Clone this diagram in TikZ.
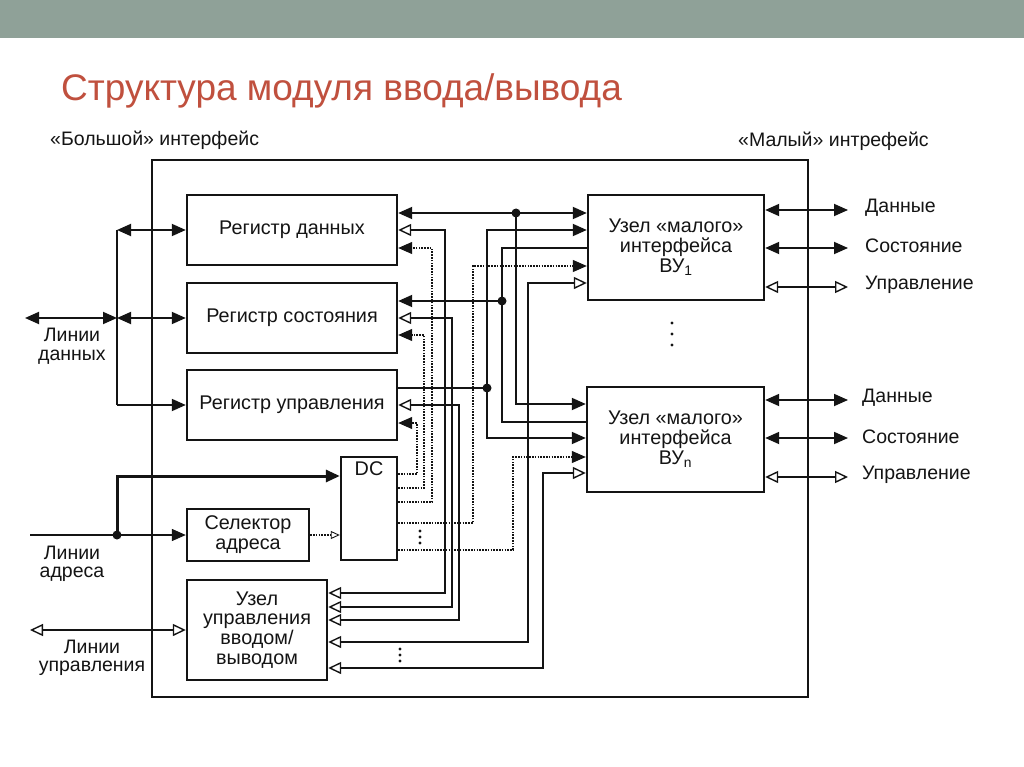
\documentclass[tikz,border=0pt]{standalone}
\usepackage{fontspec}
\setmainfont{Liberation Sans}
\usetikzlibrary{arrows.meta}
\definecolor{barcol}{RGB}{143,161,152}
\definecolor{titlecol}{RGB}{192,80,62}
\definecolor{ink}{RGB}{20,20,20}
\tikzset{
  blk/.style={draw=ink, line width=2.4pt, inner sep=0pt, align=center, text=ink, font=\fontsize{19.8}{19.8}\selectfont},
  lbl/.style={inner sep=0pt, align=center, text=ink, font=\fontsize{19.5}{18.5}\selectfont},
  wire/.style={draw=ink, line width=1.8pt},
  thinw/.style={draw=ink, line width=1.4pt},
  dwire/.style={draw=ink, line width=1.2pt, dash pattern=on 1.6pt off 1.2pt},
  fa/.style={-{Triangle[length=14pt,width=12pt]}},
  fab/.style={{Triangle[length=14pt,width=12pt]}-{Triangle[length=14pt,width=12pt]}},
  oa/.style={-{Triangle[open,length=13pt,width=12pt,line width=1.4pt]}},
  oab/.style={{Triangle[open,length=13pt,width=12pt,line width=1.4pt]}-{Triangle[open,length=13pt,width=12pt,line width=1.4pt]}},
  oas/.style={-{Triangle[open,length=9pt,width=8pt,line width=0.9pt]}},
}
\begin{document}
\begin{tikzpicture}[x=1pt,y=-1pt]
\useasboundingbox (0,0) rectangle (1024,767);
\fill[white] (0,0) rectangle (1024,767);
\fill[barcol] (0,0) rectangle (1024,38);
\node[anchor=base west, inner sep=0pt, text=titlecol, font=\fontsize{37}{40}\selectfont] (title) at (61,101) {Структура модуля ввода/вывода};
\node[lbl, anchor=base west] (tbig) at (50,146) {«Большой» интерфейс};
\node[lbl, anchor=base west] (tsmall) at (738,147) {«Малый» интрефейс};

% frame
\node[draw=ink, line width=1.5pt, minimum width=656pt, minimum height=537pt, inner sep=0pt] (frame) at (480,428.5) {};

% blocks
\node[blk, minimum width=210pt, minimum height=70pt] (rd) at (292,230) {Регистр данных};
\node[blk, minimum width=210pt, minimum height=70pt] (rs) at (292,318) {Регистр состояния};
\node[blk, minimum width=210pt, minimum height=70pt] (ru) at (292,405) {Регистр управления};
\node[blk, minimum width=56pt, minimum height=103pt,
      label={[anchor=north, inner sep=0pt, yshift=-6pt, text=ink, font=\fontsize{19.8}{19.8}\selectfont]north:DC}] (dc) at (369,508.5) {};
\node[blk, minimum width=122pt, minimum height=52pt] (sel) at (248,535) {Селектор\\адреса};
\node[blk, minimum width=140pt, minimum height=100pt] (uu) at (257,630) {Узел\\управления\\вводом/\\выводом};
\node[blk, minimum width=176pt, minimum height=105pt] (v1) at (676,247.5) {Узел «малого»\\интерфейса\\ВУ\textsubscript{1}};
\node[blk, minimum width=177pt, minimum height=105pt] (vn) at (675.5,439.5) {Узел «малого»\\интерфейса\\ВУ\textsubscript{n}};

% left labels
\node[lbl] (ldata) at (72,346) {Линии\\данных};
\node[lbl] (laddr) at (72,564) {Линии\\адреса};
\node[lbl] (lctrl) at (92,658) {Линии\\управления};

% data lines bus
\coordinate (db1) at (117,230);
\coordinate (db2) at (117,318);
\coordinate (db3) at (117,405);
\coordinate (dl) at (25,318);
\draw[wire] (db1) -- (db3);
\draw[wire,fab] (db1) -- (rd.west |- db1);
\draw[wire,fab] (dl) -- (db2);
\draw[wire,fab] (db2) -- (rs.west |- db2);
\draw[wire,fa] (db3) -- (ru.west |- db3);

% address lines
\coordinate (al) at (30,535);
\coordinate (aj) at (117,535);
\coordinate (ac) at (117,476);
\draw[thinw] (al) -- (aj);
\draw[thinw,fa] (aj) -- (sel.west |- aj);
\draw[ink, line width=3pt, fa] (aj) -- (ac) -- (dc.west |- ac);
\fill[ink] (aj) circle (4.5pt);
\draw[dwire,oas] (sel.east |- aj) -- (dc.west |- aj);

% control lines
\coordinate (cl) at (30,630);
\draw[thinw,oab] (cl) -- (uu.west);

% right side of device nodes
\coordinate (r1) at (848,210);
\coordinate (r2) at (848,248);
\coordinate (r3) at (848,287);
\coordinate (r4) at (848,400);
\coordinate (r5) at (848,438);
\coordinate (r6) at (848,477);
\draw[wire,fab] (v1.east |- r1) -- (r1);
\draw[wire,fab] (v1.east |- r2) -- (r2);
\draw[thinw,oab] (v1.east |- r3) -- (r3);
\draw[wire,fab] (vn.east |- r4) -- (r4);
\draw[wire,fab] (vn.east |- r5) -- (r5);
\draw[thinw,oab] (vn.east |- r6) -- (r6);
\node[lbl, anchor=west] (t1) at (865,208) {Данные};
\node[lbl, anchor=west] (t2) at (865,246) {Состояние};
\node[lbl, anchor=west] (t3) at (865,285) {Управление};
\node[lbl, anchor=west] (t4) at (862,398) {Данные};
\node[lbl, anchor=west] (t5) at (862,437) {Состояние};
\node[lbl, anchor=west] (t6) at (862,475) {Управление};

% data register <-> devices
\coordinate (jd) at (516,213);
\draw[wire,fab] (rd.east |- jd) -- (v1.west |- jd);
\draw[wire,fa] (jd) |- (vn.west |- 0,404);
\fill[ink] (jd) circle (4.5pt);

% control register -> devices
\coordinate (jc) at (487,388);
\draw[wire] (ru.east |- jc) -- (jc);
\draw[wire,fa] (jc) |- (v1.west |- 0,230);
\draw[wire,fa] (jc) |- (vn.west |- 0,438);
\fill[ink] (jc) circle (4.5pt);

% devices -> status register
\coordinate (js) at (502,301);
\draw[wire] (v1.west |- 0,248) -| (js) |- (vn.west |- 0,422);
\draw[wire,fa] (js) -- (rs.east |- js);
\fill[ink] (js) circle (4.5pt);

% DC -> devices
\draw[dwire,fa] (dc.east |- 0,523) -- (473,523) -- (473,266) -- (v1.west |- 0,266);
\draw[dwire,fa] (dc.east |- 0,550) -- (513,550) -- (513,457) -- (vn.west |- 0,457);

% I/O control <-> devices
\draw[wire,oab] (uu.east |- 0,642) -- (528,642) -- (528,283) -- (v1.west |- 0,283);
\draw[wire,oab] (uu.east |- 0,668) -- (543,668) -- (543,473) -- (vn.west |- 0,473);

% registers <-> I/O control
\draw[wire,oab] (rd.east |- 0,230) -- (445,230) -- (445,593) -- (uu.east |- 0,593);
\draw[wire,oab] (rs.east |- 0,318) -- (452,318) -- (452,607) -- (uu.east |- 0,607);
\draw[wire,oab] (ru.east |- 0,405) -- (459,405) -- (459,620) -- (uu.east |- 0,620);

% DC -> registers
\draw[dwire,fa] (dc.east |- 0,474) -- (417,474) -- (417,423) -- (ru.east |- 0,423);
\draw[dwire,fa] (dc.east |- 0,488) -- (424,488) -- (424,335) -- (rs.east |- 0,335);
\draw[dwire,fa] (dc.east |- 0,502) -- (432,502) -- (432,248) -- (rd.east |- 0,248);

% ellipsis dots
\foreach \yy in {531,537,543} \fill[ink] (420,\yy) circle (1.6pt);
\foreach \yy in {649,655,661} \fill[ink] (400,\yy) circle (1.6pt);
\foreach \yy in {323,334,345} \fill[ink] (672,\yy) circle (1.6pt);
\end{tikzpicture}
\end{document}
